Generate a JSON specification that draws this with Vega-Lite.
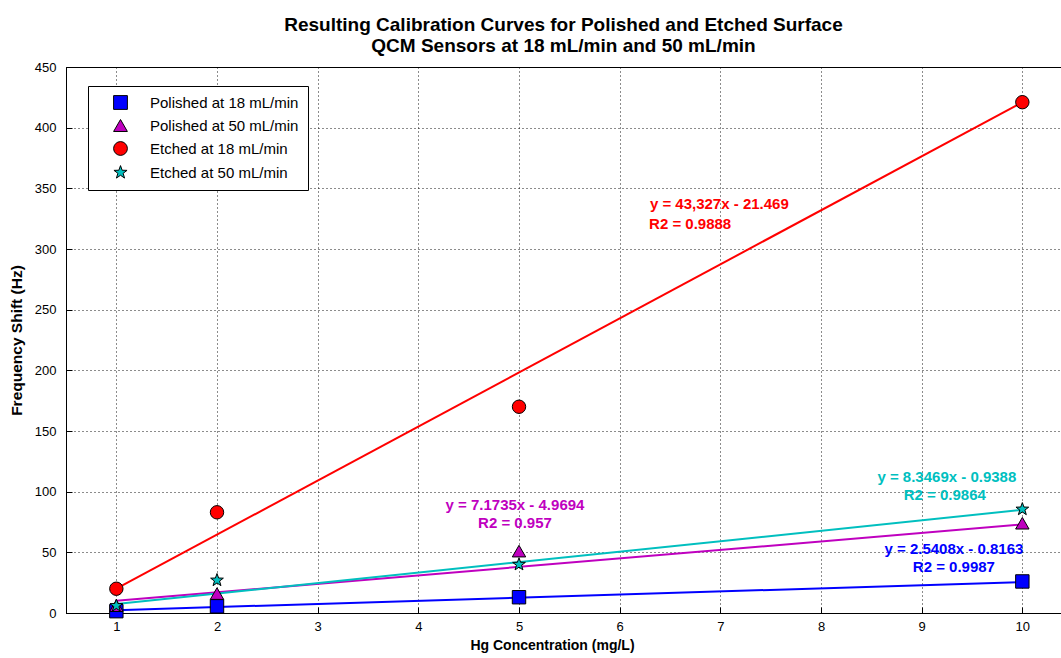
{
  "$schema": "https://vega.github.io/schema/vega-lite/v6.json",
  "width": 995,
  "height": 546,
  "autosize": {"type": "none"},
  "padding": {"left": 66, "top": 67, "right": 0, "bottom": 45},
  "background": "white",
  "title": {
    "text": ["Resulting Calibration Curves for Polished and Etched Surface", "QCM Sensors at 18 mL/min and 50 mL/min"],
    "anchor": "middle",
    "frame": "group",
    "font": "Liberation Sans",
    "fontSize": 19,
    "fontWeight": "bold",
    "lineHeight": 21,
    "offset": 5,
    "color": "black"
  },
  "config": {
    "view": {"stroke": "black", "strokeWidth": 1},
    "font": "Liberation Sans",
    "axis": {
      "labelFont": "Liberation Sans",
      "labelFontSize": 13,
      "labelColor": "black",
      "titleFont": "Liberation Sans",
      "titleFontWeight": "bold",
      "titleColor": "black",
      "domainColor": "black",
      "tickColor": "black",
      "grid": true,
      "gridColor": "black",
      "gridDash": [1, 3],
      "gridOpacity": 0.9
    },
    "legend": {
      "fillColor": "white", "strokeColor": "black", "padding": 9,
      "labelFont": "Liberation Sans", "labelFontSize": 15, "labelColor": "black",
      "symbolStrokeColor": "black", "symbolStrokeWidth": 1, "symbolSize": 190, "symbolOpacity": 1,
      "symbolOffset": 16, "labelOffset": 22, "rowPadding": 5, "labelLimit": 300
    }
  },
  "datasets": {
    "pts": [
      {"series": "Polished at 18 mL/min", "x": 1, "y": 1.5},
      {"series": "Polished at 18 mL/min", "x": 2, "y": 5.5},
      {"series": "Polished at 18 mL/min", "x": 5, "y": 13},
      {"series": "Polished at 18 mL/min", "x": 10, "y": 26},
      {"series": "Polished at 50 mL/min", "x": 1, "y": 6},
      {"series": "Polished at 50 mL/min", "x": 2, "y": 16},
      {"series": "Polished at 50 mL/min", "x": 5, "y": 51},
      {"series": "Polished at 50 mL/min", "x": 10, "y": 74},
      {"series": "Etched at 18 mL/min", "x": 1, "y": 20},
      {"series": "Etched at 18 mL/min", "x": 2, "y": 83},
      {"series": "Etched at 18 mL/min", "x": 5, "y": 170},
      {"series": "Etched at 18 mL/min", "x": 10, "y": 421},
      {"series": "Etched at 50 mL/min", "x": 1, "y": 6},
      {"series": "Etched at 50 mL/min", "x": 2, "y": 27},
      {"series": "Etched at 50 mL/min", "x": 5, "y": 40},
      {"series": "Etched at 50 mL/min", "x": 10, "y": 85.5}
    ],
    "fits": [
      {"series": "Polished at 18 mL/min", "x": 1, "y": 2.3},
      {"series": "Polished at 18 mL/min", "x": 10, "y": 25.5},
      {"series": "Polished at 50 mL/min", "x": 1, "y": 10},
      {"series": "Polished at 50 mL/min", "x": 10, "y": 73},
      {"series": "Etched at 18 mL/min", "x": 1, "y": 20},
      {"series": "Etched at 18 mL/min", "x": 10, "y": 421},
      {"series": "Etched at 50 mL/min", "x": 1, "y": 7.4},
      {"series": "Etched at 50 mL/min", "x": 10, "y": 85}
    ],
    "notes": [
      {"series": "Etched at 18 mL/min", "x": 6.99, "y": 337, "text": "y = 43,327x - 21.469"},
      {"series": "Etched at 18 mL/min", "x": 6.70, "y": 321, "text": "R2 = 0.9888"},
      {"series": "Polished at 50 mL/min", "x": 4.96, "y": 89, "text": "y = 7.1735x - 4.9694"},
      {"series": "Polished at 50 mL/min", "x": 4.96, "y": 74, "text": "R2 = 0.957"},
      {"series": "Etched at 50 mL/min", "x": 9.25, "y": 112, "text": "y = 8.3469x - 0.9388"},
      {"series": "Etched at 50 mL/min", "x": 9.23, "y": 97, "text": "R2 = 0.9864"},
      {"series": "Polished at 18 mL/min", "x": 9.32, "y": 52.7, "text": "y = 2.5408x - 0.8163"},
      {"series": "Polished at 18 mL/min", "x": 9.32, "y": 37.9, "text": "R2 = 0.9987"}
    ]
  },
  "encoding": {
    "x": {
      "field": "x", "type": "quantitative",
      "scale": {"domain": [0.5, 10.384], "nice": false, "zero": false},
      "axis": {"values": [1,2,3,4,5,6,7,8,9,10], "title": "Hg Concentration (mg/L)", "titleFontSize": 14, "tickSize": -6, "labelPadding": 13, "titlePadding": 5, "titleX": 486}
    },
    "y": {
      "field": "y", "type": "quantitative",
      "scale": {"domain": [0, 450], "nice": false},
      "axis": {"values": [0,50,100,150,200,250,300,350,400,450], "title": "Frequency Shift (Hz)", "titleFontSize": 15.5, "tickSize": -6, "labelPadding": 16, "titlePadding": 10}
    }
  },
  "layer": [
    {
      "data": {"name": "fits"},
      "mark": {"type": "line", "strokeWidth": 2},
      "encoding": {
        "stroke": {
          "field": "series", "type": "nominal", "legend": null,
          "scale": {"domain": ["Etched at 50 mL/min", "Etched at 18 mL/min", "Polished at 50 mL/min", "Polished at 18 mL/min"], "range": ["#00BFBF", "#FF0000", "#BF00BF", "#0000FF"]}
        },
        "detail": {"field": "series"}
      }
    },
    {
      "data": {"name": "pts"},
      "mark": {"type": "point", "filled": true, "stroke": "black", "strokeWidth": 1, "opacity": 1, "size": 180},
      "encoding": {
        "fill": {
          "field": "series", "type": "nominal",
          "scale": {"domain": ["Polished at 18 mL/min", "Polished at 50 mL/min", "Etched at 18 mL/min", "Etched at 50 mL/min"], "range": ["#0000FF", "#BF00BF", "#FF0000", "#00BFBF"]},
          "legend": {"title": null, "orient": "none", "legendX": 22, "legendY": 19,
            "encode": {"symbols": {"update": {"stroke": {"value": "black"}, "strokeWidth": {"value": 1}}}}}
        },
        "shape": {
          "field": "series", "type": "nominal",
          "scale": {"domain": ["Polished at 18 mL/min", "Polished at 50 mL/min", "Etched at 18 mL/min", "Etched at 50 mL/min"], "range": ["square", "triangle-up", "circle", "M0,-1L0.24,-0.33L0.95,-0.31L0.38,0.12L0.59,0.81L0,0.4L-0.59,0.81L-0.38,0.12L-0.95,-0.31L-0.24,-0.33Z"]},
          "legend": {"title": null, "orient": "none", "legendX": 22, "legendY": 19,
            "encode": {"symbols": {"update": {"stroke": {"value": "black"}, "strokeWidth": {"value": 1}}}}}
        }
      }
    },
    {
      "data": {"name": "notes"},
      "mark": {"type": "text", "font": "Liberation Sans", "fontSize": 15, "fontWeight": "bold", "align": "center", "baseline": "middle"},
      "encoding": {
        "text": {"field": "text"},
        "color": {
          "field": "series", "type": "nominal", "legend": null,
          "scale": {"domain": ["Etched at 18 mL/min", "Etched at 50 mL/min", "Polished at 18 mL/min", "Polished at 50 mL/min"], "range": ["#FF0000", "#00BFBF", "#0000FF", "#BF00BF"]}
        }
      }
    }
  ]
}
